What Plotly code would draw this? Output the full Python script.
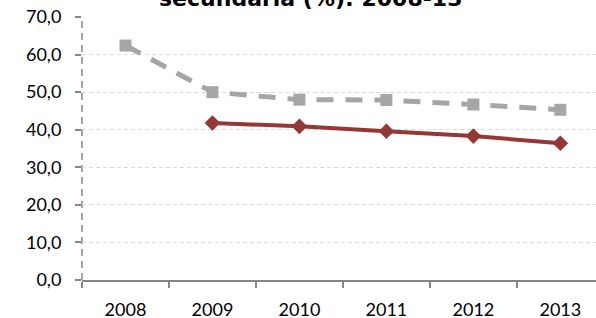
import plotly.graph_objects as go

years = ["2008", "2009", "2010", "2011", "2012", "2013"]
serie_gris = [62.4, 50.0, 48.0, 47.9, 46.7, 45.3]
serie_roja = [None, 41.8, 40.9, 39.6, 38.3, 36.4]
y_ticks = [0, 10, 20, 30, 40, 50, 60, 70]
y_labels = ["0,0", "10,0", "20,0", "30,0", "40,0", "50,0", "60,0", "70,0"]
titulo = "secundaria (%): 2008-13"

fig = go.Figure()
fig.add_trace(go.Scatter(
    x=years, y=serie_gris, mode="lines+markers",
    line=dict(color="#A6A6A6", width=5, dash="17px,12px"),
    marker=dict(symbol="square", size=12, color="#A6A6A6"),
    showlegend=False,
))
fig.add_trace(go.Scatter(
    x=years, y=serie_roja, mode="lines+markers",
    line=dict(color="#953735", width=4),
    marker=dict(symbol="diamond", size=12, color="#953735"),
    showlegend=False,
))

font_fam = "Lato, 'Open Sans', sans-serif"
fig.update_layout(
    width=596, height=318,
    margin=dict(l=82, r=0, t=17, b=38),
    paper_bgcolor="white", plot_bgcolor="white",
    xaxis=dict(
        type="category", range=[-0.5, 5.41], automargin=False,
        tickson="boundaries", ticks="outside", ticklen=6, tickwidth=1.5,
        tickcolor="#868686", showgrid=False,
        showline=True, linecolor="#868686", linewidth=2,
        tickfont=dict(family=font_fam, size=18, color="#000000"),
        ticklabelstandoff=12,
    ),
    yaxis=dict(
        range=[0, 70], tickvals=y_ticks, ticktext=y_labels, automargin=False,
        ticks="outside", ticklen=6, tickwidth=1.5, tickcolor="#868686",
        showgrid=True, gridcolor="#D9D9D9", gridwidth=1, griddash="4px,3px",
        showline=False, zeroline=False,
        tickfont=dict(family=font_fam, size=18, color="#000000"),
        ticklabelstandoff=10,
    ),
    shapes=[dict(
        type="line", xref="paper", yref="paper", x0=0, x1=0, y0=0, y1=1,
        line=dict(color="#868686", width=1.5, dash="7px,5px"), layer="below",
    )],
    annotations=[dict(
        text="<b>" + titulo + "</b>", xref="paper", yref="paper",
        x=0.4446, y=1.015, xanchor="center", yanchor="bottom", showarrow=False,
        font=dict(family="'DejaVu Sans', Verdana, sans-serif", size=22, color="#000000"),
    )],
)

fig.write_html("out.html", config={"displayModeBar": False},
               post_script="document.body.style.margin='0';")
